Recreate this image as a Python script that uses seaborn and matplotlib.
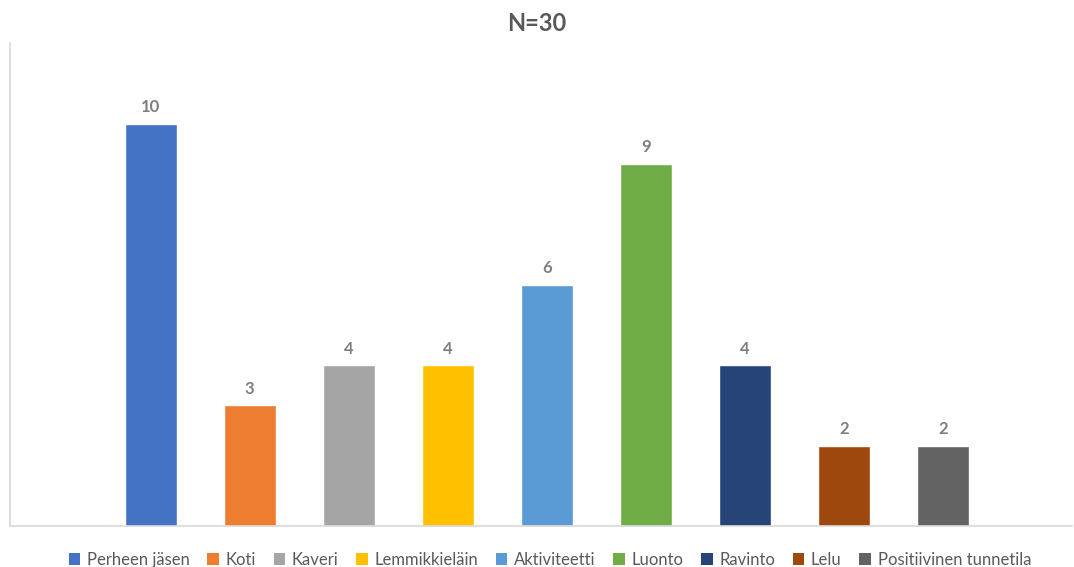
import matplotlib
matplotlib.use("Agg")
import matplotlib.pyplot as plt
import seaborn as sns
import pandas as pd
from matplotlib.patches import Patch

categories = ["Perheen jäsen", "Koti", "Kaveri", "Lemmikkieläin", "Aktiviteetti",
              "Luonto", "Ravinto", "Lelu", "Positiivinen tunnetila"]
values = [10, 3, 4, 4, 6, 9, 4, 2, 2]
colors = ["#4472C4", "#ED7D31", "#A5A5A5", "#FFC000", "#5B9BD5",
          "#70AD47", "#264478", "#9E480E", "#636363"]
title = "N=30"

sns.set_theme(style="white")
plt.rcParams["font.family"] = ["Lato", "DejaVu Sans"]

df = pd.DataFrame({"kategoria": categories, "lkm": values})

fig = plt.figure(figsize=(10.74, 5.67), dpi=100)
ax = fig.add_axes([0.0093, 0.0723, 0.9887, 0.8517])

sns.barplot(data=df, x="kategoria", y="lkm", hue="kategoria", order=categories,
            hue_order=categories, palette=colors, dodge=False, width=0.525,
            legend=False, ax=ax, saturation=1)

for cont in ax.containers:
    ax.bar_label(cont, padding=6, fontsize=12, color="#7F7F7F", fontweight="bold")

ax.set_xlim(-1.42, 9.30)
ax.set_ylim(0, 12)
ax.set_xlabel("")
ax.set_ylabel("")
ax.set_xticks([])
ax.set_yticks([])
for side in ["top", "right"]:
    ax.spines[side].set_visible(False)
for side in ["left", "bottom"]:
    ax.spines[side].set_color("#D9D9D9")
    ax.spines[side].set_linewidth(1.2)

fig.suptitle(title, y=0.978, fontsize=17, fontweight="bold", color="#595959")

handles = [Patch(facecolor=c, edgecolor="none") for c in colors]
fig.legend(handles, categories, loc="lower center", bbox_to_anchor=(0.512, -0.028),
           ncol=len(categories), frameon=False, fontsize=12, labelcolor="#595959",
           handlelength=0.7, handleheight=0.7, handletextpad=0.4, columnspacing=1.05)

fig.savefig("out.png", dpi=100, facecolor="white")
